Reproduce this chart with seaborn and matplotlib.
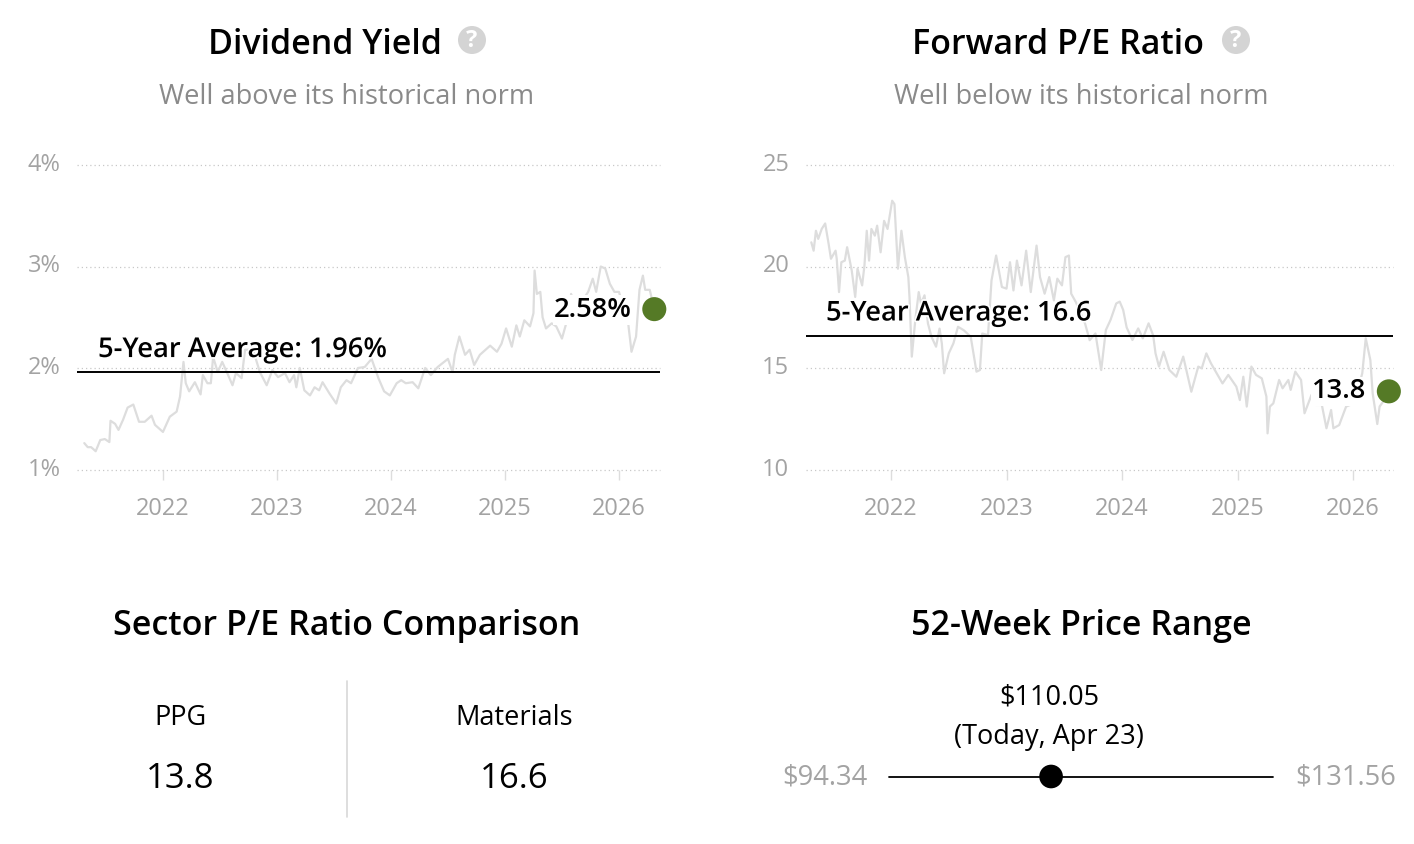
import matplotlib
matplotlib.use("Agg")
import matplotlib.pyplot as plt
import matplotlib.patheffects as pe
from matplotlib.patches import Circle
from matplotlib.transforms import ScaledTranslation
import seaborn as sns


# Rendimiento por dividendo
yield_years = [2021.31, 2021.34, 2021.37, 2021.41, 2021.45, 2021.49, 2021.53, 2021.54, 2021.58, 2021.61,
               2021.65, 2021.69, 2021.74, 2021.79, 2021.84, 2021.90, 2021.93, 2022.00, 2022.06, 2022.12,
               2022.15, 2022.18, 2022.20, 2022.23, 2022.28, 2022.33, 2022.35, 2022.39, 2022.42, 2022.44,
               2022.48, 2022.52, 2022.56, 2022.61, 2022.64, 2022.69, 2022.72, 2022.79, 2022.85, 2022.91,
               2022.96, 2023.01, 2023.07, 2023.11, 2023.15, 2023.17, 2023.20, 2023.24, 2023.29, 2023.33,
               2023.37, 2023.40, 2023.46, 2023.52, 2023.56, 2023.61, 2023.65, 2023.71, 2023.77, 2023.83,
               2023.89, 2023.94, 2023.99, 2024.05, 2024.09, 2024.13, 2024.19, 2024.24, 2024.30, 2024.35,
               2024.41, 2024.50, 2024.54, 2024.56, 2024.60, 2024.65, 2024.69, 2024.73, 2024.78, 2024.87,
               2024.93, 2024.97, 2025.01, 2025.06, 2025.10, 2025.13, 2025.17, 2025.22, 2025.25, 2025.26,
               2025.28, 2025.31, 2025.33, 2025.36, 2025.41, 2025.45, 2025.50, 2025.54, 2025.57, 2025.58,
               2025.63, 2025.73, 2025.77, 2025.80, 2025.84, 2025.88, 2025.92, 2025.96, 2026.00, 2026.08,
               2026.11, 2026.15, 2026.18, 2026.21, 2026.23, 2026.27, 2026.31]
yield_values = [1.26, 1.22, 1.22, 1.18, 1.29, 1.30, 1.27, 1.48, 1.45, 1.39,
                1.49, 1.61, 1.64, 1.47, 1.47, 1.53, 1.44, 1.37, 1.52, 1.57,
                1.72, 2.06, 1.85, 1.77, 1.86, 1.74, 1.93, 1.85, 1.85, 2.11,
                1.96, 2.06, 1.96, 1.83, 1.95, 1.90, 2.18, 2.18, 1.96, 1.83,
                1.98, 1.91, 1.95, 1.86, 1.93, 1.81, 2.00, 1.78, 1.73, 1.81,
                1.78, 1.86, 1.75, 1.65, 1.81, 1.88, 1.85, 2.00, 2.01, 2.09,
                1.90, 1.77, 1.73, 1.85, 1.88, 1.85, 1.86, 1.80, 2.00, 1.93,
                2.01, 2.09, 1.96, 2.13, 2.31, 2.13, 2.18, 2.03, 2.13, 2.22,
                2.16, 2.24, 2.39, 2.21, 2.42, 2.31, 2.47, 2.41, 2.54, 2.96,
                2.73, 2.75, 2.50, 2.39, 2.44, 2.41, 2.29, 2.45, 2.47, 2.73,
                2.58, 2.75, 2.88, 2.75, 3.00, 2.98, 2.83, 2.75, 2.75, 2.45,
                2.16, 2.31, 2.77, 2.91, 2.77, 2.77, 2.58]
yield_avg = 1.96
yield_ticks = [1, 2, 3, 4]
yield_labels = ["1%", "2%", "3%", "4%"]

# P/E adelantado
pe_years = [2021.31, 2021.33, 2021.35, 2021.37, 2021.40, 2021.43, 2021.46, 2021.48, 2021.52, 2021.53,
            2021.55, 2021.57, 2021.60, 2021.62, 2021.66, 2021.69, 2021.71, 2021.75, 2021.77, 2021.79,
            2021.81, 2021.83, 2021.86, 2021.88, 2021.91, 2021.94, 2021.97, 2022.01, 2022.03, 2022.06,
            2022.09, 2022.12, 2022.15, 2022.16, 2022.18, 2022.21, 2022.24, 2022.26, 2022.29, 2022.32,
            2022.35, 2022.39, 2022.42, 2022.44, 2022.46, 2022.50, 2022.54, 2022.58, 2022.63, 2022.69,
            2022.74, 2022.77, 2022.79, 2022.84, 2022.87, 2022.91, 2022.96, 2023.00, 2023.03, 2023.06,
            2023.09, 2023.13, 2023.17, 2023.21, 2023.26, 2023.29, 2023.33, 2023.37, 2023.41, 2023.44,
            2023.48, 2023.51, 2023.54, 2023.56, 2023.60, 2023.68, 2023.72, 2023.77, 2023.82, 2023.86,
            2023.90, 2023.95, 2023.98, 2024.01, 2024.04, 2024.09, 2024.14, 2024.18, 2024.23, 2024.27,
            2024.29, 2024.32, 2024.36, 2024.41, 2024.47, 2024.53, 2024.60, 2024.66, 2024.69, 2024.73,
            2024.77, 2024.87, 2024.92, 2024.99, 2025.02, 2025.05, 2025.08, 2025.12, 2025.16, 2025.21,
            2025.25, 2025.26, 2025.28, 2025.31, 2025.36, 2025.39, 2025.44, 2025.46, 2025.50, 2025.55,
            2025.58, 2025.64, 2025.68, 2025.73, 2025.77, 2025.81, 2025.83, 2025.88, 2025.94, 2026.01,
            2026.08, 2026.11, 2026.15, 2026.17, 2026.21, 2026.23, 2026.27, 2026.31]
pe_values = [21.19, 20.78, 21.76, 21.36, 21.85, 22.12, 21.11, 20.38, 20.78, 20.38,
             18.74, 20.21, 20.29, 20.95, 19.80, 18.50, 19.89, 19.07, 20.05, 21.76,
             20.29, 21.85, 21.52, 22.01, 20.70, 22.25, 21.85, 23.24, 23.07, 19.89,
             21.76, 20.46, 19.48, 18.50, 15.56, 17.35, 18.74, 18.17, 18.58, 17.19,
             16.54, 16.05, 16.94, 16.21, 14.74, 15.72, 16.21, 17.03, 16.86, 16.54,
             14.82, 14.90, 16.70, 16.62, 19.31, 20.54, 18.99, 18.91, 20.21, 18.82,
             20.29, 19.07, 20.78, 18.74, 21.03, 19.48, 18.66, 19.48, 18.33, 19.40,
             19.07, 20.46, 20.54, 18.66, 18.25, 17.19, 16.37, 16.70, 14.90, 16.87,
             17.36, 18.18, 18.27, 17.86, 17.00, 16.38, 16.95, 16.46, 17.20, 16.60,
             15.72, 15.07, 15.80, 14.90, 14.57, 15.56, 13.83, 15.07, 14.98, 15.72,
             15.23, 14.24, 14.66, 14.08, 13.42, 14.57, 13.10, 15.07, 14.66, 14.49,
             13.59, 11.78, 13.10, 13.26, 14.41, 14.00, 14.41, 13.92, 14.82, 14.41,
             12.77, 13.67, 13.18, 13.18, 12.03, 12.93, 12.03, 12.19, 13.10, 13.26,
             14.74, 16.46, 15.39, 13.75, 12.24, 13.10, 13.42, 13.85]
pe_avg = 16.6
pe_ticks = [10, 15, 20, 25]
pe_labels = ["10", "15", "20", "25"]

year_ticks = [2022, 2023, 2024, 2025, 2026]

sector_names = ["PPG", "Materials"]
sector_values = ["13.8", "16.6"]

price_low = 94.34
price_high = 131.56
price_now = 110.05

W, H = 1414, 844
GRAY_TEXT = "#a3a3a3"
GREEN = "#557a26"

FS_TITLE = 24.5
FS_SUB = 19.6
FS_LABEL = 19.7
FS_TICK = 17


def caja(fig, x0, y0, x1, y1):
    # caja en pixeles de la imagen, y hacia abajo
    return fig.add_axes([x0 / W, 1 - y1 / H, (x1 - x0) / W, (y1 - y0) / H])


def grafico_serie(fig, box, xlim, years, values, avg, ticks, labels, last_label, avg_label, avg_off, last_off):
    ax = caja(fig, *box)
    ax.set_xlim(*xlim)
    ax.set_ylim(ticks[0], ticks[-1])
    ax.set_facecolor("none")
    sns.despine(ax=ax, left=True, bottom=True, top=True, right=True)
    ax.set_xticks(year_ticks, [str(y) for y in year_ticks])
    ax.set_yticks(ticks, labels)
    ax.grid(False)
    for t in ticks:
        ax.axhline(t, color="#c8c8c8", lw=0.9, ls=(0, (1, 2.4)), zorder=1, clip_on=False)
    ax.tick_params(axis="x", length=7, width=1, color="#dddddd", labelsize=FS_TICK,
                   labelcolor=GRAY_TEXT, pad=13, bottom=True)
    ax.tick_params(axis="y", length=0, labelsize=FS_TICK, labelcolor=GRAY_TEXT, pad=12, left=False)
    for lab in ax.get_yticklabels():
        lab.set_transform(lab.get_transform() + ScaledTranslation(0, 3 / 100, fig.dpi_scale_trans))

    sns.lineplot(x=years, y=values, ax=ax, color="#dddddd", lw=1.6, zorder=2, estimator=None, sort=False)
    ax.axhline(avg, color="black", lw=1.4, zorder=3)
    ax.annotate(avg_label, xy=(xlim[0], avg), xytext=avg_off, textcoords="offset pixels",
                fontsize=FS_LABEL, fontweight=600, color="black", va="center", ha="left", zorder=4,
                path_effects=[pe.withStroke(linewidth=2.5, foreground="white")])
    ax.annotate(last_label, xy=(years[-1], values[-1]), xytext=last_off, textcoords="offset pixels",
                fontsize=FS_LABEL, fontweight=600, color="black", va="center", ha="right", zorder=4,
                bbox=dict(facecolor="white", edgecolor="none", pad=0.5))
    sns.scatterplot(x=years[-1:], y=values[-1:], ax=ax, s=300, color=GREEN, edgecolor="none",
                    zorder=5, clip_on=False)
    return ax


def main():
    sns.set_theme(style="white")
    plt.rcParams["font.family"] = ["Open Sans", "Noto Sans", "DejaVu Sans"]

    fig = plt.figure(figsize=(14.14, 8.44), dpi=100)

    grafico_serie(fig, (77, 165, 660, 469.5), (2021.246, 2026.36), yield_years, yield_values, yield_avg,
                  yield_ticks, yield_labels, "2.58%", "5-Year Average: 1.96%", (21, 22), (-23, -1))
    grafico_serie(fig, (806, 165, 1393, 469.5), (2021.264, 2026.346), pe_years, pe_values, pe_avg,
                  pe_ticks, pe_labels, "13.8", "5-Year Average: 16.6", (20, 22), (-23, 0))

    # capa de textos en pixeles
    over = fig.add_axes([0, 0, 1, 1])
    over.set_xlim(0, W)
    over.set_ylim(H, 0)
    over.axis("off")
    over.set_facecolor("none")

    over.text(324.5, 45, "Dividend Yield", fontsize=FS_TITLE, fontweight=600, color="black", ha="center", va="center")
    over.text(1058.5, 45, "Forward P/E Ratio", fontsize=FS_TITLE, fontweight=600, color="black", ha="center", va="center")
    for cx in (472, 1236):
        over.add_patch(Circle((cx, 40), 14, facecolor="#d4d4d4", edgecolor="none"))
        over.text(cx, 41, "?", fontsize=17, fontweight="bold", color="white", ha="center", va="center")
    over.text(347, 97, "Well above its historical norm", fontsize=FS_SUB, color="#8a8a8a", ha="center", va="center")
    over.text(1081, 97, "Well below its historical norm", fontsize=FS_SUB, color="#8a8a8a", ha="center", va="center")

    over.text(347, 626, "Sector P/E Ratio Comparison", fontsize=FS_TITLE, fontweight=600, color="black", ha="center", va="center")
    over.text(1081, 626, "52-Week Price Range", fontsize=FS_TITLE, fontweight=600, color="black", ha="center", va="center")

    over.plot([346.5, 346.5], [681, 817], color="#d8d8d8", lw=1.2)
    for cx, name, val in zip((180, 514), sector_names, sector_values):
        over.text(cx, 718, name, fontsize=19.5, color="black", ha="center", va="center")
        over.text(cx, 779, val, fontsize=25, color="black", ha="center", va="center")

    # rango de 52 semanas
    rng = caja(fig, 889, 766.5, 1273, 786.5)
    rng.set_xlim(price_low, price_high)
    rng.set_ylim(-1, 1)
    rng.axis("off")
    rng.set_facecolor("none")
    rng.plot([price_low, price_high], [0, 0], color="black", lw=1.3, clip_on=False)
    sns.scatterplot(x=[price_now], y=[0], ax=rng, s=290, color="black", edgecolor="none", zorder=3, clip_on=False)

    over.text(1049, 698, f"${price_now:.2f}", fontsize=19.5, color="black", ha="center", va="center")
    over.text(1049, 737, "(Today, Apr 23)", fontsize=19.5, color="black", ha="center", va="center")
    over.text(867, 778, f"${price_low:.2f}", fontsize=19.7, color=GRAY_TEXT, ha="right", va="center")
    over.text(1295, 778, f"${price_high:.2f}", fontsize=19.7, color=GRAY_TEXT, ha="left", va="center")

    fig.savefig("out.png", dpi=100)


if __name__ == '__main__':
    main()
